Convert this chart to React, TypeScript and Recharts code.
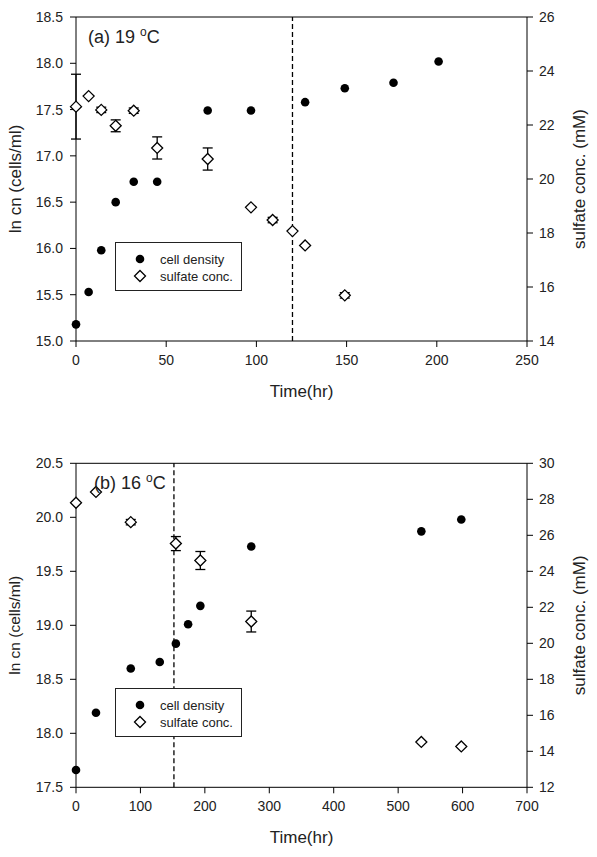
import {
  ComposedChart,
  Scatter,
  XAxis,
  YAxis,
  ErrorBar,
  ReferenceLine,
  Legend,
} from "recharts";

const FONT = '"Liberation Sans", Arial, Helvetica, sans-serif';
const INK = "#222";

// run (a), 19 °C
const cellTimeA = [0, 7, 14, 22, 32, 45, 73, 97, 127, 149, 176, 201];
const cellLnA = [15.18, 15.53, 15.98, 16.5, 16.72, 16.72, 17.49, 17.49, 17.58, 17.73, 17.79, 18.02];
const sulfTimeA = [0, 7, 14, 22, 32, 45, 73, 97, 109, 120, 127, 149];
const sulfA = [22.68, 23.07, 22.56, 21.97, 22.53, 21.15, 20.74, 18.95, 18.48, 18.07, 17.54, 15.69];
const sulfErrA = [1.2, 0, 0.1, 0.22, 0.1, 0.41, 0.41, 0, 0.1, 0, 0, 0.1];
const timeTicksA = [0, 50, 100, 150, 200, 250];
const lnTicksA = [15, 15.5, 16, 16.5, 17, 17.5, 18, 18.5];
const sulfTicksA = [14, 16, 18, 20, 22, 24, 26];
const cutoffA = 120;

// run (b), 16 °C
const cellTimeB = [0, 31, 85, 130, 155, 174, 193, 272, 536, 598];
const cellLnB = [17.66, 18.19, 18.6, 18.66, 18.83, 19.01, 19.18, 19.73, 19.87, 19.98];
const sulfTimeB = [0, 31, 85, 155, 193, 272, 536, 598];
const sulfB = [27.81, 28.41, 26.73, 25.54, 24.6, 21.21, 14.52, 14.27];
const sulfErrB = [0, 0, 0.15, 0.39, 0.5, 0.58, 0, 0];
const timeTicksB = [0, 100, 200, 300, 400, 500, 600, 700];
const lnTicksB = [17.5, 18, 18.5, 19, 19.5, 20, 20.5];
const sulfTicksB = [12, 14, 16, 18, 20, 22, 24, 26, 28, 30];
const cutoffB = 152;

const zip = (t: number[], v: number[], e?: number[]) =>
  t.map((x, i) => ({ t: x, v: v[i], e: e ? e[i] : 0 }));

const Dot = (p: any) => <circle cx={p.cx} cy={p.cy} r={4.3} fill="#000" />;

const Diamond = (p: any) => {
  const s = 5.5;
  const { cx, cy } = p;
  return (
    <polygon
      points={`${cx},${cy - s} ${cx + s},${cy} ${cx},${cy + s} ${cx - s},${cy}`}
      fill="#fff"
      stroke="#000"
      strokeWidth={1.3}
    />
  );
};

const LegendBox = () => (
  <div
    style={{
      boxSizing: "border-box",
      width: 127,
      height: 49,
      border: "1.3px solid #222",
      background: "#fff",
      fontFamily: FONT,
      fontSize: 13,
      color: INK,
      padding: "8px 0 0 17px",
      lineHeight: "17px",
    }}
  >
    <div style={{ display: "flex", alignItems: "center" }}>
      <svg width={16} height={14}>
        <circle cx={7} cy={7} r={4.3} fill="#000" />
      </svg>
      <span style={{ marginLeft: 11 }}>cell density</span>
    </div>
    <div style={{ display: "flex", alignItems: "center" }}>
      <svg width={16} height={14}>
        <polygon points="7,1.5 12.5,7 7,12.5 1.5,7" fill="#fff" stroke="#000" strokeWidth={1.3} />
      </svg>
      <span style={{ marginLeft: 11 }}>sulfate conc.</span>
    </div>
  </div>
);

interface PanelProps {
  height: number;
  top: number;
  cells: { t: number; v: number; e: number }[];
  sulf: { t: number; v: number; e: number }[];
  xDomain: [number, number];
  xTicks: number[];
  lnDomain: [number, number];
  lnTicks: number[];
  sDomain: [number, number];
  sTicks: number[];
  cutoff: number;
  tag: string;
  temp: string;
  lnLabelSize: number;
}

function Panel(props: PanelProps) {
  const { height, top } = props;
  const tick = { fill: INK, fontSize: 14, fontFamily: FONT };
  const plotH = 324;
  return (
    <div style={{ position: "relative", width: 597, height }}>
      <ComposedChart
        width={597}
        height={height}
        margin={{ top, right: 0, bottom: height - top - plotH - 60, left: 0 }}
      >
        <XAxis
          type="number"
          dataKey="t"
          domain={props.xDomain}
          ticks={props.xTicks}
          interval={0}
          height={60}
          stroke="#000"
          tick={tick}
          tickSize={6}
          tickMargin={8}
          label={{
            value: "Time(hr)",
            position: "insideBottom",
            offset: 4,
            fill: INK,
            fontSize: 17,
            fontFamily: FONT,
          }}
        />
        <YAxis
          yAxisId="l"
          dataKey="v"
          type="number"
          domain={props.lnDomain}
          ticks={props.lnTicks}
          interval={0}
          width={76}
          stroke="#000"
          tick={tick}
          tickSize={6}
          tickMargin={7}
          tickFormatter={(v: number) => v.toFixed(1)}
          label={{
            value: "ln cn (cells/ml)",
            angle: -90,
            position: "insideLeft",
            offset: 15,
            fill: INK,
            fontSize: props.lnLabelSize,
            fontFamily: FONT,
            style: { textAnchor: "middle" },
          }}
        />
        <YAxis
          yAxisId="r"
          orientation="right"
          dataKey="v"
          type="number"
          domain={props.sDomain}
          ticks={props.sTicks}
          interval={0}
          width={70}
          stroke="#000"
          tick={tick}
          tickSize={6}
          tickMargin={6}
          label={{
            value: "sulfate conc. (mM)",
            angle: -90,
            position: "insideRight",
            offset: 18,
            fill: INK,
            fontSize: 17,
            fontFamily: FONT,
            style: { textAnchor: "middle" },
          }}
        />
        <ReferenceLine yAxisId="l" y={props.lnDomain[1]} stroke="#000" />
        <ReferenceLine
          yAxisId="l"
          x={props.cutoff}
          stroke="#000"
          strokeWidth={1.3}
          strokeDasharray="5 3"
        />
        <Scatter
          name="cell density"
          yAxisId="l"
          data={props.cells}
          dataKey="v"
          shape={Dot}
          isAnimationActive={false}
        />
        <Scatter
          name="sulfate conc."
          yAxisId="r"
          data={props.sulf}
          dataKey="v"
          shape={Diamond}
          isAnimationActive={false}
        >
          <ErrorBar dataKey="e" direction="y" width={5} stroke="#000" strokeWidth={1.3} />
        </Scatter>
        <Legend
          layout="vertical"
          align="center"
          verticalAlign="middle"
          content={<LegendBox />}
          wrapperStyle={{ left: 115, top: top + 224.5, width: 127, height: 49 }}
        />
      </ComposedChart>
      <div
        style={{
          position: "absolute",
          left: props.tag === "(a)" ? 88 : 94,
          top: top + 10.5,
          fontFamily: FONT,
          fontSize: 18,
          lineHeight: "18px",
          color: INK,
          whiteSpace: "nowrap",
        }}
      >
        {props.tag} {props.temp}{" "}
        <span style={{ fontSize: 12, position: "relative", top: -7 }}>o</span>C
      </div>
    </div>
  );
}

export default function App() {
  return (
    <div
      style={{
        position: "absolute",
        left: 0,
        top: 0,
        width: 597,
        height: 857,
        overflow: "hidden",
        background: "#fff",
      }}
    >
      <Panel
        height={420}
        top={17}
        cells={zip(cellTimeA, cellLnA)}
        sulf={zip(sulfTimeA, sulfA, sulfErrA)}
        xDomain={[0, 250]}
        xTicks={timeTicksA}
        lnDomain={[15, 18.5]}
        lnTicks={lnTicksA}
        sDomain={[14, 26]}
        sTicks={sulfTicksA}
        cutoff={cutoffA}
        tag="(a)"
        temp="19"
        lnLabelSize={17}
      />
      <Panel
        height={437}
        top={43.3}
        cells={zip(cellTimeB, cellLnB)}
        sulf={zip(sulfTimeB, sulfB, sulfErrB)}
        xDomain={[0, 700]}
        xTicks={timeTicksB}
        lnDomain={[17.5, 20.5]}
        lnTicks={lnTicksB}
        sDomain={[12, 30]}
        sTicks={sulfTicksB}
        cutoff={cutoffB}
        tag="(b)"
        temp="16"
        lnLabelSize={15.5}
      />
    </div>
  );
}
